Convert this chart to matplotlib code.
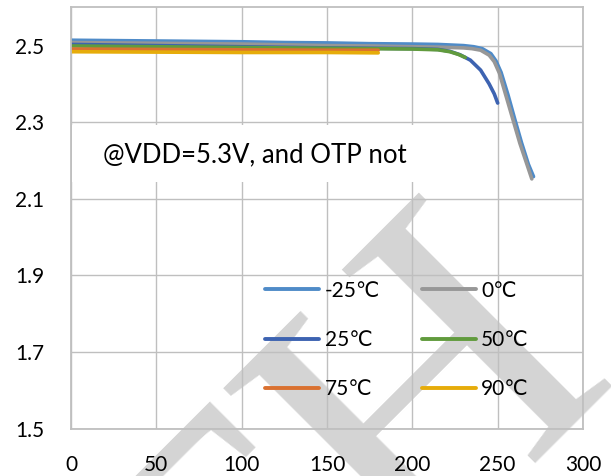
import matplotlib
matplotlib.use("Agg")
import matplotlib.pyplot as plt
from matplotlib.font_manager import FontProperties
from matplotlib.patches import Rectangle

# ---- data ----
labels = ["-25\u2103", "0\u2103", "25\u2103", "50\u2103", "75\u2103", "90\u2103"]
colors = ["#4F8BC8", "#979797", "#3D63B1", "#619B3D", "#DA7130", "#E6AC0A"]

neg25_x = [0, 25, 50, 75, 100, 125, 150, 175, 200, 215, 230, 236, 241, 246, 249, 252, 256, 260, 264, 268, 271]
neg25_y = [2.514, 2.513, 2.512, 2.511, 2.510, 2.508, 2.507, 2.505, 2.504, 2.503, 2.500, 2.497, 2.492,
           2.479, 2.460, 2.430, 2.372, 2.308, 2.246, 2.190, 2.158]

zero_x = [0, 25, 50, 75, 100, 125, 150, 175, 200, 215, 230, 235, 240, 245, 248, 251, 255, 259, 263, 267, 270]
zero_y = [2.508, 2.507, 2.506, 2.505, 2.504, 2.502, 2.500, 2.499, 2.497, 2.496, 2.494, 2.492, 2.488,
          2.475, 2.458, 2.428, 2.367, 2.306, 2.245, 2.192, 2.152]

t25_x = [0, 50, 100, 150, 200, 215, 222, 228, 234, 240, 245, 248, 250]
t25_y = [2.503, 2.500, 2.497, 2.494, 2.492, 2.490, 2.485, 2.476, 2.462, 2.436, 2.400, 2.374, 2.350]

t50_x = [0, 50, 100, 150, 200, 215, 222, 227, 231]
t50_y = [2.499, 2.497, 2.495, 2.493, 2.491, 2.489, 2.484, 2.477, 2.469]

t75_x = [0, 50, 100, 150, 180]
t75_y = [2.491, 2.490, 2.489, 2.488, 2.488]

t90_x = [0, 50, 100, 150, 180]
t90_y = [2.484, 2.483, 2.482, 2.482, 2.481]

series_x = [neg25_x, zero_x, t25_x, t50_x, t75_x, t90_x]
series_y = [neg25_y, zero_y, t25_y, t50_y, t75_y, t90_y]

x_ticks = [0, 50, 100, 150, 200, 250, 300]
y_ticks = [1.5, 1.7, 1.9, 2.1, 2.3, 2.5]
annotation = "@VDD=5.3V, and OTP not"
watermark = "STH"

# ---- plot ----
fam = ["Lato", "DejaVu Sans"]
plt.rcParams["font.family"] = fam
FS = 15

fig = plt.figure(figsize=(6.11, 4.76), dpi=100)
ax = fig.add_axes([0.1162, 0.0994, 0.8380, 0.8853])
ax.set_axisbelow(True)

handles = []
for xs, ys, c, lab in zip(series_x, series_y, colors, labels):
    ln, = ax.plot(xs, ys, color=c, lw=2.6, label=lab, solid_capstyle="round",
                  solid_joinstyle="round", zorder=2)
    handles.append(ln)

ax.set_xlim(0, 300)
ax.set_ylim(1.5, 2.6)
ax.set_xticks(x_ticks)
ax.set_yticks(y_ticks)
ax.set_yticklabels([f"{v:.1f}" for v in y_ticks])
ax.tick_params(axis="both", length=0, labelsize=FS, pad=19, colors="black")
ax.grid(True, color="#BFBFBF", lw=1.0)
for s in ax.spines.values():
    s.set_color("#BFBFBF")
    s.set_linewidth(1.3)

# watermark
ax.text(1.005, 0.248, watermark, transform=fig.transFigure, rotation=45,
        rotation_mode="anchor", ha="right", va="baseline",
        fontsize=300, family="Liberation Serif", color="#D4D4D4",
        zorder=0.3, clip_on=False)

# annotation text box
ax.add_patch(Rectangle((0.002, 0.585), 0.678, 0.136, transform=ax.transAxes,
                       facecolor="white", edgecolor="none", zorder=1))
ax.text(0.0625, 0.6495, annotation, transform=ax.transAxes, ha="left", va="center",
        fontsize=18.5, zorder=3)

# legend laid out row by row (matplotlib fills columns first)
order = [0, 2, 4, 1, 3, 5]
leg = ax.legend([handles[i] for i in order], [labels[i] for i in order],
                ncol=2, frameon=False, loc="upper left", bbox_to_anchor=(0.359, 0.376),
                borderpad=0, handlelength=2.6, handletextpad=0.25, columnspacing=2.0,
                labelspacing=1.4, prop=FontProperties(family=fam, size=FS))
for h in leg.get_lines():
    h.set_linewidth(2.8)

fig.savefig("out.png", dpi=100)
